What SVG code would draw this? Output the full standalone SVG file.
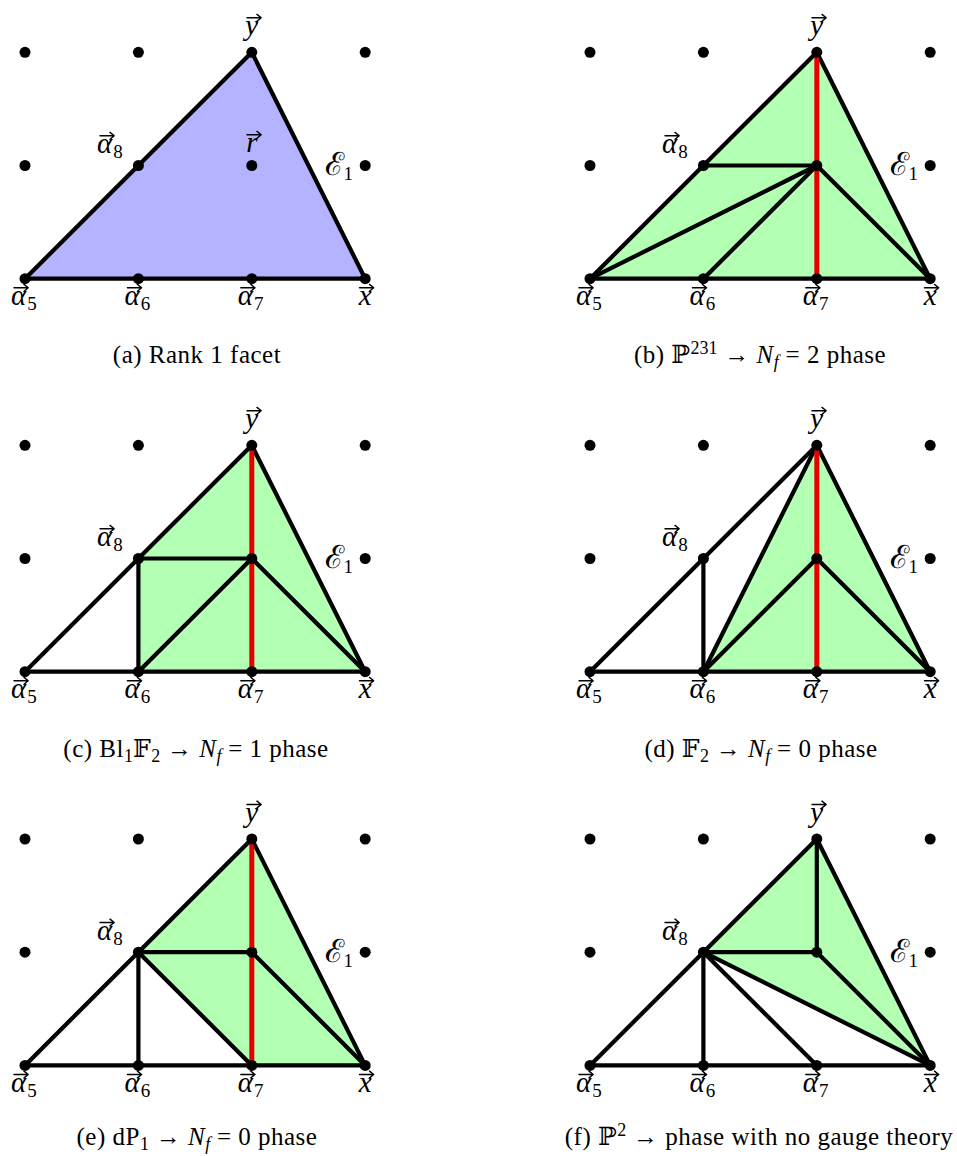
<svg xmlns="http://www.w3.org/2000/svg" xmlns:xlink="http://www.w3.org/1999/xlink" width="957" height="1156" viewBox="0 0 957 1156">
<style>
.e{stroke:#000;stroke-width:4.2;fill:none;stroke-linecap:round;stroke-linejoin:round}
.red{stroke:#e60000;stroke-width:5;fill:none}
.blue{fill:#b3b3ff;stroke:none}
.green{fill:#b3ffb3;stroke:none}
.lb{font-family:"Liberation Serif","DejaVu Serif",serif;font-size:29px;fill:#000}
.cal{font-size:32px}
.it{font-style:italic}
.sb{font-size:19px;font-style:normal}
.ar{stroke:#000;stroke-width:1.4;fill:none;stroke-linecap:round;stroke-linejoin:round}
.cap{font-family:"Liberation Serif","DejaVu Serif","DejaVu Sans",serif;font-size:25px;letter-spacing:0.5px;fill:#000;text-anchor:middle}
.cs{font-size:18px;letter-spacing:0}
</style>
<defs>
<circle id="dot" r="5.5" fill="#000"/>
<path id="vec" class="ar" d="M-7,0 H6.5 M3,-3.4 L7.2,0 L3,3.4"/>
</defs>
<rect width="957" height="1156" fill="#fff"/>

<!-- Panel a -->
<g id="panel-a" transform="translate(25,52.3)">
<g id="a-faces"><polygon class="blue" points="0,226.4 226.8,0 340.2,226.4"/></g>
<g id="a-connectors">
<line class="e" x1="0" y1="226.4" x2="226.8" y2="0"/>
<line class="e" x1="226.8" y1="0" x2="340.2" y2="226.4"/>
<line class="e" x1="0" y1="226.4" x2="340.2" y2="226.4"/>
</g>
<g id="a-nodes">
<g id="a-p00"><use xlink:href="#dot" x="0" y="0"/></g>
<g id="a-p10"><use xlink:href="#dot" x="113.4" y="0"/></g>
<g id="a-y"><use xlink:href="#dot" x="226.8" y="0"/><text class="lb it" x="226.8" y="-17" text-anchor="middle">y</text><use xlink:href="#vec" x="229" y="-34.5"/></g>
<g id="a-p30"><use xlink:href="#dot" x="340.2" y="0"/></g>
<g id="a-p01"><use xlink:href="#dot" x="0" y="113.2"/></g>
<g id="a-alpha8"><use xlink:href="#dot" x="113.4" y="113.2"/><text class="lb" x="72" y="101"><tspan class="it">α</tspan><tspan class="sb" dx="1" dy="5">8</tspan></text><use xlink:href="#vec" x="82" y="83.5"/></g>
<g id="a-r"><use xlink:href="#dot" x="226.8" y="113.2"/><text class="lb it" x="226.8" y="100" text-anchor="middle">r</text><use xlink:href="#vec" x="229" y="82.5"/></g>
<g id="a-E1"><use xlink:href="#dot" x="340.2" y="113.2"/><text class="lb" x="328" y="123" text-anchor="end"><tspan class="cal">ℰ</tspan><tspan class="sb" dy="5">1</tspan></text></g>
<g id="a-alpha5"><use xlink:href="#dot" x="0" y="226.4"/><text class="lb" x="-14" y="253"><tspan class="it">α</tspan><tspan class="sb" dx="1" dy="5">5</tspan></text><use xlink:href="#vec" x="-4" y="235.5"/></g>
<g id="a-alpha6"><use xlink:href="#dot" x="113.4" y="226.4"/><text class="lb" x="99.4" y="253"><tspan class="it">α</tspan><tspan class="sb" dx="1" dy="5">6</tspan></text><use xlink:href="#vec" x="109.4" y="235.5"/></g>
<g id="a-alpha7"><use xlink:href="#dot" x="226.8" y="226.4"/><text class="lb" x="212.8" y="253"><tspan class="it">α</tspan><tspan class="sb" dx="1" dy="5">7</tspan></text><use xlink:href="#vec" x="222.8" y="235.5"/></g>
<g id="a-x"><use xlink:href="#dot" x="340.2" y="226.4"/><text class="lb it" x="340.2" y="253" text-anchor="middle">x</text><use xlink:href="#vec" x="341.5" y="235.5"/></g>
</g>
</g>
<text id="cap-a" class="cap" x="197" y="363">(a) Rank 1 facet</text>

<!-- Panel b -->
<g id="panel-b" transform="translate(590,52.3)">
<g id="b-faces"><polygon class="green" points="0,226.4 226.8,0 340.2,226.4"/></g>
<g id="b-connectors">
<line class="e" x1="0" y1="226.4" x2="226.8" y2="0"/>
<line class="e" x1="226.8" y1="0" x2="340.2" y2="226.4"/>
<line class="e" x1="0" y1="226.4" x2="340.2" y2="226.4"/>
<line class="e" x1="113.4" y1="113.2" x2="226.8" y2="113.2"/>
<line class="e" x1="0" y1="226.4" x2="226.8" y2="113.2"/>
<line class="e" x1="113.4" y1="226.4" x2="226.8" y2="113.2"/>
<line class="e" x1="226.8" y1="113.2" x2="340.2" y2="226.4"/>
<line class="red" x1="226.8" y1="0" x2="226.8" y2="226.4"/>
</g>
<g id="b-nodes">
<g id="b-p00"><use xlink:href="#dot" x="0" y="0"/></g>
<g id="b-p10"><use xlink:href="#dot" x="113.4" y="0"/></g>
<g id="b-y"><use xlink:href="#dot" x="226.8" y="0"/><text class="lb it" x="226.8" y="-17" text-anchor="middle">y</text><use xlink:href="#vec" x="229" y="-34.5"/></g>
<g id="b-p30"><use xlink:href="#dot" x="340.2" y="0"/></g>
<g id="b-p01"><use xlink:href="#dot" x="0" y="113.2"/></g>
<g id="b-alpha8"><use xlink:href="#dot" x="113.4" y="113.2"/><text class="lb" x="72" y="101"><tspan class="it">α</tspan><tspan class="sb" dx="1" dy="5">8</tspan></text><use xlink:href="#vec" x="82" y="83.5"/></g>
<g id="b-r"><use xlink:href="#dot" x="226.8" y="113.2"/></g>
<g id="b-E1"><use xlink:href="#dot" x="340.2" y="113.2"/><text class="lb" x="328" y="123" text-anchor="end"><tspan class="cal">ℰ</tspan><tspan class="sb" dy="5">1</tspan></text></g>
<g id="b-alpha5"><use xlink:href="#dot" x="0" y="226.4"/><text class="lb" x="-14" y="253"><tspan class="it">α</tspan><tspan class="sb" dx="1" dy="5">5</tspan></text><use xlink:href="#vec" x="-4" y="235.5"/></g>
<g id="b-alpha6"><use xlink:href="#dot" x="113.4" y="226.4"/><text class="lb" x="99.4" y="253"><tspan class="it">α</tspan><tspan class="sb" dx="1" dy="5">6</tspan></text><use xlink:href="#vec" x="109.4" y="235.5"/></g>
<g id="b-alpha7"><use xlink:href="#dot" x="226.8" y="226.4"/><text class="lb" x="212.8" y="253"><tspan class="it">α</tspan><tspan class="sb" dx="1" dy="5">7</tspan></text><use xlink:href="#vec" x="222.8" y="235.5"/></g>
<g id="b-x"><use xlink:href="#dot" x="340.2" y="226.4"/><text class="lb it" x="340.2" y="253" text-anchor="middle">x</text><use xlink:href="#vec" x="341.5" y="235.5"/></g>
</g>
</g>
<text id="cap-b" class="cap" x="760" y="363">(b) ℙ<tspan class="cs" dy="-9">231</tspan><tspan dy="9"> → </tspan><tspan class="it">N</tspan><tspan class="cs it" dy="5">f</tspan><tspan dy="-5"> = 2 phase</tspan></text>

<!-- Panel c -->
<g id="panel-c" transform="translate(25,445.3)">
<g id="c-faces"><polygon class="green" points="113.4,226.4 113.4,113.2 226.8,0 340.2,226.4"/></g>
<g id="c-connectors">
<line class="e" x1="0" y1="226.4" x2="226.8" y2="0"/>
<line class="e" x1="226.8" y1="0" x2="340.2" y2="226.4"/>
<line class="e" x1="0" y1="226.4" x2="340.2" y2="226.4"/>
<line class="e" x1="113.4" y1="113.2" x2="113.4" y2="226.4"/>
<line class="e" x1="113.4" y1="113.2" x2="226.8" y2="113.2"/>
<line class="e" x1="113.4" y1="226.4" x2="226.8" y2="113.2"/>
<line class="e" x1="226.8" y1="113.2" x2="340.2" y2="226.4"/>
<line class="red" x1="226.8" y1="0" x2="226.8" y2="226.4"/>
</g>
<g id="c-nodes">
<g id="c-p00"><use xlink:href="#dot" x="0" y="0"/></g>
<g id="c-p10"><use xlink:href="#dot" x="113.4" y="0"/></g>
<g id="c-y"><use xlink:href="#dot" x="226.8" y="0"/><text class="lb it" x="226.8" y="-17" text-anchor="middle">y</text><use xlink:href="#vec" x="229" y="-34.5"/></g>
<g id="c-p30"><use xlink:href="#dot" x="340.2" y="0"/></g>
<g id="c-p01"><use xlink:href="#dot" x="0" y="113.2"/></g>
<g id="c-alpha8"><use xlink:href="#dot" x="113.4" y="113.2"/><text class="lb" x="72" y="101"><tspan class="it">α</tspan><tspan class="sb" dx="1" dy="5">8</tspan></text><use xlink:href="#vec" x="82" y="83.5"/></g>
<g id="c-r"><use xlink:href="#dot" x="226.8" y="113.2"/></g>
<g id="c-E1"><use xlink:href="#dot" x="340.2" y="113.2"/><text class="lb" x="328" y="123" text-anchor="end"><tspan class="cal">ℰ</tspan><tspan class="sb" dy="5">1</tspan></text></g>
<g id="c-alpha5"><use xlink:href="#dot" x="0" y="226.4"/><text class="lb" x="-14" y="253"><tspan class="it">α</tspan><tspan class="sb" dx="1" dy="5">5</tspan></text><use xlink:href="#vec" x="-4" y="235.5"/></g>
<g id="c-alpha6"><use xlink:href="#dot" x="113.4" y="226.4"/><text class="lb" x="99.4" y="253"><tspan class="it">α</tspan><tspan class="sb" dx="1" dy="5">6</tspan></text><use xlink:href="#vec" x="109.4" y="235.5"/></g>
<g id="c-alpha7"><use xlink:href="#dot" x="226.8" y="226.4"/><text class="lb" x="212.8" y="253"><tspan class="it">α</tspan><tspan class="sb" dx="1" dy="5">7</tspan></text><use xlink:href="#vec" x="222.8" y="235.5"/></g>
<g id="c-x"><use xlink:href="#dot" x="340.2" y="226.4"/><text class="lb it" x="340.2" y="253" text-anchor="middle">x</text><use xlink:href="#vec" x="341.5" y="235.5"/></g>
</g>
</g>
<text id="cap-c" class="cap" x="196" y="757">(c) Bl<tspan class="cs" dy="5">1</tspan><tspan dy="-5">𝔽</tspan><tspan class="cs" dy="5">2</tspan><tspan dy="-5"> → </tspan><tspan class="it">N</tspan><tspan class="cs it" dy="5">f</tspan><tspan dy="-5"> = 1 phase</tspan></text>

<!-- Panel d -->
<g id="panel-d" transform="translate(590,445.3)">
<g id="d-faces"><polygon class="green" points="113.4,226.4 226.8,0 340.2,226.4"/></g>
<g id="d-connectors">
<line class="e" x1="0" y1="226.4" x2="226.8" y2="0"/>
<line class="e" x1="226.8" y1="0" x2="340.2" y2="226.4"/>
<line class="e" x1="0" y1="226.4" x2="340.2" y2="226.4"/>
<line class="e" x1="113.4" y1="113.2" x2="113.4" y2="226.4"/>
<line class="e" x1="113.4" y1="226.4" x2="226.8" y2="0"/>
<line class="e" x1="113.4" y1="226.4" x2="226.8" y2="113.2"/>
<line class="e" x1="226.8" y1="113.2" x2="340.2" y2="226.4"/>
<line class="red" x1="226.8" y1="0" x2="226.8" y2="226.4"/>
</g>
<g id="d-nodes">
<g id="d-p00"><use xlink:href="#dot" x="0" y="0"/></g>
<g id="d-p10"><use xlink:href="#dot" x="113.4" y="0"/></g>
<g id="d-y"><use xlink:href="#dot" x="226.8" y="0"/><text class="lb it" x="226.8" y="-17" text-anchor="middle">y</text><use xlink:href="#vec" x="229" y="-34.5"/></g>
<g id="d-p30"><use xlink:href="#dot" x="340.2" y="0"/></g>
<g id="d-p01"><use xlink:href="#dot" x="0" y="113.2"/></g>
<g id="d-alpha8"><use xlink:href="#dot" x="113.4" y="113.2"/><text class="lb" x="72" y="101"><tspan class="it">α</tspan><tspan class="sb" dx="1" dy="5">8</tspan></text><use xlink:href="#vec" x="82" y="83.5"/></g>
<g id="d-r"><use xlink:href="#dot" x="226.8" y="113.2"/></g>
<g id="d-E1"><use xlink:href="#dot" x="340.2" y="113.2"/><text class="lb" x="328" y="123" text-anchor="end"><tspan class="cal">ℰ</tspan><tspan class="sb" dy="5">1</tspan></text></g>
<g id="d-alpha5"><use xlink:href="#dot" x="0" y="226.4"/><text class="lb" x="-14" y="253"><tspan class="it">α</tspan><tspan class="sb" dx="1" dy="5">5</tspan></text><use xlink:href="#vec" x="-4" y="235.5"/></g>
<g id="d-alpha6"><use xlink:href="#dot" x="113.4" y="226.4"/><text class="lb" x="99.4" y="253"><tspan class="it">α</tspan><tspan class="sb" dx="1" dy="5">6</tspan></text><use xlink:href="#vec" x="109.4" y="235.5"/></g>
<g id="d-alpha7"><use xlink:href="#dot" x="226.8" y="226.4"/><text class="lb" x="212.8" y="253"><tspan class="it">α</tspan><tspan class="sb" dx="1" dy="5">7</tspan></text><use xlink:href="#vec" x="222.8" y="235.5"/></g>
<g id="d-x"><use xlink:href="#dot" x="340.2" y="226.4"/><text class="lb it" x="340.2" y="253" text-anchor="middle">x</text><use xlink:href="#vec" x="341.5" y="235.5"/></g>
</g>
</g>
<text id="cap-d" class="cap" x="761" y="757">(d) 𝔽<tspan class="cs" dy="5">2</tspan><tspan dy="-5"> → </tspan><tspan class="it">N</tspan><tspan class="cs it" dy="5">f</tspan><tspan dy="-5"> = 0 phase</tspan></text>

<!-- Panel e -->
<g id="panel-e" transform="translate(25,839)">
<g id="e-faces"><polygon class="green" points="113.4,113.2 226.8,0 340.2,226.4 226.8,226.4"/></g>
<g id="e-connectors">
<line class="e" x1="0" y1="226.4" x2="226.8" y2="0"/>
<line class="e" x1="226.8" y1="0" x2="340.2" y2="226.4"/>
<line class="e" x1="0" y1="226.4" x2="340.2" y2="226.4"/>
<line class="e" x1="113.4" y1="113.2" x2="113.4" y2="226.4"/>
<line class="e" x1="113.4" y1="113.2" x2="226.8" y2="226.4"/>
<line class="e" x1="113.4" y1="113.2" x2="226.8" y2="113.2"/>
<line class="e" x1="226.8" y1="113.2" x2="340.2" y2="226.4"/>
<line class="red" x1="226.8" y1="0" x2="226.8" y2="226.4"/>
</g>
<g id="e-nodes">
<g id="e-p00"><use xlink:href="#dot" x="0" y="0"/></g>
<g id="e-p10"><use xlink:href="#dot" x="113.4" y="0"/></g>
<g id="e-y"><use xlink:href="#dot" x="226.8" y="0"/><text class="lb it" x="226.8" y="-17" text-anchor="middle">y</text><use xlink:href="#vec" x="229" y="-34.5"/></g>
<g id="e-p30"><use xlink:href="#dot" x="340.2" y="0"/></g>
<g id="e-p01"><use xlink:href="#dot" x="0" y="113.2"/></g>
<g id="e-alpha8"><use xlink:href="#dot" x="113.4" y="113.2"/><text class="lb" x="72" y="101"><tspan class="it">α</tspan><tspan class="sb" dx="1" dy="5">8</tspan></text><use xlink:href="#vec" x="82" y="83.5"/></g>
<g id="e-r"><use xlink:href="#dot" x="226.8" y="113.2"/></g>
<g id="e-E1"><use xlink:href="#dot" x="340.2" y="113.2"/><text class="lb" x="328" y="123" text-anchor="end"><tspan class="cal">ℰ</tspan><tspan class="sb" dy="5">1</tspan></text></g>
<g id="e-alpha5"><use xlink:href="#dot" x="0" y="226.4"/><text class="lb" x="-14" y="253"><tspan class="it">α</tspan><tspan class="sb" dx="1" dy="5">5</tspan></text><use xlink:href="#vec" x="-4" y="235.5"/></g>
<g id="e-alpha6"><use xlink:href="#dot" x="113.4" y="226.4"/><text class="lb" x="99.4" y="253"><tspan class="it">α</tspan><tspan class="sb" dx="1" dy="5">6</tspan></text><use xlink:href="#vec" x="109.4" y="235.5"/></g>
<g id="e-alpha7"><use xlink:href="#dot" x="226.8" y="226.4"/><text class="lb" x="212.8" y="253"><tspan class="it">α</tspan><tspan class="sb" dx="1" dy="5">7</tspan></text><use xlink:href="#vec" x="222.8" y="235.5"/></g>
<g id="e-x"><use xlink:href="#dot" x="340.2" y="226.4"/><text class="lb it" x="340.2" y="253" text-anchor="middle">x</text><use xlink:href="#vec" x="341.5" y="235.5"/></g>
</g>
</g>
<text id="cap-e" class="cap" x="197" y="1145">(e) dP<tspan class="cs" dy="5">1</tspan><tspan dy="-5"> → </tspan><tspan class="it">N</tspan><tspan class="cs it" dy="5">f</tspan><tspan dy="-5"> = 0 phase</tspan></text>

<!-- Panel f -->
<g id="panel-f" transform="translate(590,839)">
<g id="f-faces"><polygon class="green" points="113.4,113.2 226.8,0 340.2,226.4"/></g>
<g id="f-connectors">
<line class="e" x1="0" y1="226.4" x2="226.8" y2="0"/>
<line class="e" x1="226.8" y1="0" x2="340.2" y2="226.4"/>
<line class="e" x1="0" y1="226.4" x2="340.2" y2="226.4"/>
<line class="e" x1="113.4" y1="113.2" x2="113.4" y2="226.4"/>
<line class="e" x1="113.4" y1="113.2" x2="226.8" y2="226.4"/>
<line class="e" x1="113.4" y1="113.2" x2="340.2" y2="226.4"/>
<line class="e" x1="113.4" y1="113.2" x2="226.8" y2="113.2"/>
<line class="e" x1="226.8" y1="113.2" x2="340.2" y2="226.4"/>
<line class="e" x1="226.8" y1="0" x2="226.8" y2="113.2"/>
</g>
<g id="f-nodes">
<g id="f-p00"><use xlink:href="#dot" x="0" y="0"/></g>
<g id="f-p10"><use xlink:href="#dot" x="113.4" y="0"/></g>
<g id="f-y"><use xlink:href="#dot" x="226.8" y="0"/><text class="lb it" x="226.8" y="-17" text-anchor="middle">y</text><use xlink:href="#vec" x="229" y="-34.5"/></g>
<g id="f-p30"><use xlink:href="#dot" x="340.2" y="0"/></g>
<g id="f-p01"><use xlink:href="#dot" x="0" y="113.2"/></g>
<g id="f-alpha8"><use xlink:href="#dot" x="113.4" y="113.2"/><text class="lb" x="72" y="101"><tspan class="it">α</tspan><tspan class="sb" dx="1" dy="5">8</tspan></text><use xlink:href="#vec" x="82" y="83.5"/></g>
<g id="f-r"><use xlink:href="#dot" x="226.8" y="113.2"/></g>
<g id="f-E1"><use xlink:href="#dot" x="340.2" y="113.2"/><text class="lb" x="328" y="123" text-anchor="end"><tspan class="cal">ℰ</tspan><tspan class="sb" dy="5">1</tspan></text></g>
<g id="f-alpha5"><use xlink:href="#dot" x="0" y="226.4"/><text class="lb" x="-14" y="253"><tspan class="it">α</tspan><tspan class="sb" dx="1" dy="5">5</tspan></text><use xlink:href="#vec" x="-4" y="235.5"/></g>
<g id="f-alpha6"><use xlink:href="#dot" x="113.4" y="226.4"/><text class="lb" x="99.4" y="253"><tspan class="it">α</tspan><tspan class="sb" dx="1" dy="5">6</tspan></text><use xlink:href="#vec" x="109.4" y="235.5"/></g>
<g id="f-alpha7"><use xlink:href="#dot" x="226.8" y="226.4"/><text class="lb" x="212.8" y="253"><tspan class="it">α</tspan><tspan class="sb" dx="1" dy="5">7</tspan></text><use xlink:href="#vec" x="222.8" y="235.5"/></g>
<g id="f-x"><use xlink:href="#dot" x="340.2" y="226.4"/><text class="lb it" x="340.2" y="253" text-anchor="middle">x</text><use xlink:href="#vec" x="341.5" y="235.5"/></g>
</g>
</g>
<text id="cap-f" class="cap" x="759" y="1145">(f) ℙ<tspan class="cs" dy="-9">2</tspan><tspan dy="9"> → phase with no gauge theory</tspan></text>
</svg>
